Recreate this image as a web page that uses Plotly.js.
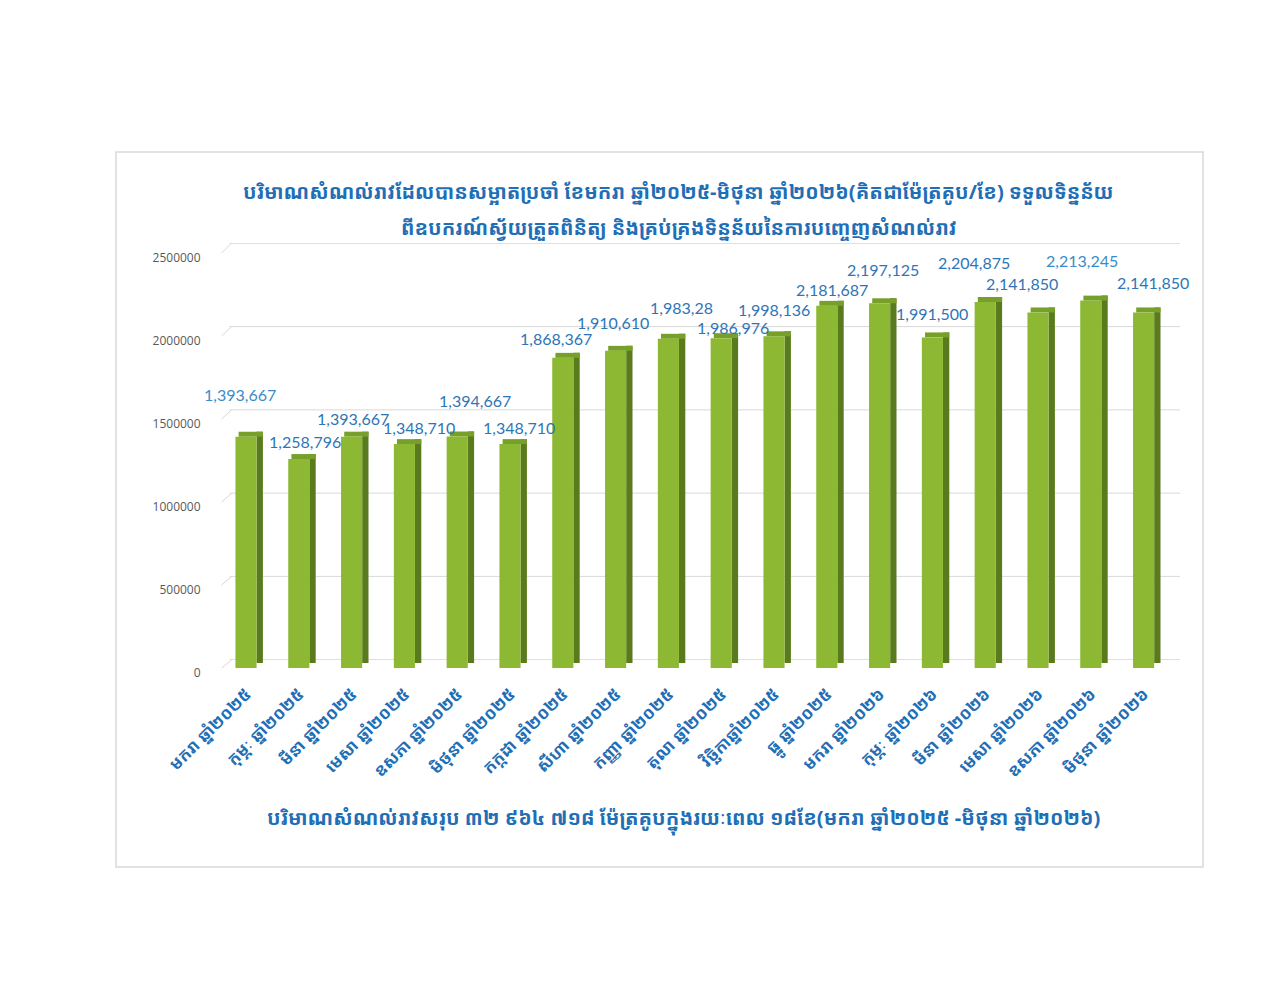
<!DOCTYPE html>
<html>
<head>
<meta charset="utf-8">
<script src="https://cdn.plot.ly/plotly-3.0.1.min.js"></script>
<style>
  body { margin: 0; background: #fff; }
  #chart { width: 1280px; height: 989px; }
</style>
</head>
<body>
<div id="chart"></div>
<script>
// month names, Jan 2025 .. Jun 2026
const categories = [
  "មករា ឆ្នាំ២០២៥", "កុម្ភៈ ឆ្នាំ២០២៥", "មីនា ឆ្នាំ២០២៥", "មេសា ឆ្នាំ២០២៥",
  "ឧសភា ឆ្នាំ២០២៥", "មិថុនា ឆ្នាំ២០២៥", "កក្កដា ឆ្នាំ២០២៥", "សីហា ឆ្នាំ២០២៥",
  "កញ្ញា ឆ្នាំ២០២៥", "តុលា ឆ្នាំ២០២៥", "វិច្ឆិកាឆ្នាំ២០២៥", "ធ្នូ ឆ្នាំ២០២៥",
  "មករា ឆ្នាំ២០២៦", "កុម្ភៈ ឆ្នាំ២០២៦", "មីនា ឆ្នាំ២០២៦", "មេសា ឆ្នាំ២០២៦",
  "ឧសភា ឆ្នាំ២០២៦", "មិថុនា ឆ្នាំ២០២៦"
];
const volumes = [
  1393667, 1258796, 1393667, 1348710, 1394667, 1348710, 1868367, 1910610,
  1983280, 1986976, 1998136, 2181687, 2197125, 1991500, 2204875, 2141850,
  2213245, 2141850
];
const valueLabels = [
  "1,393,667", "1,258,796", "1,393,667", "1,348,710", "1,394,667", "1,348,710",
  "1,868,367", "1,910,610", "1,983,28", "1,986,976", "1,998,136", "2,181,687",
  "2,197,125", "1,991,500", "2,204,875", "2,141,850", "2,213,245", "2,141,850"
];
const yTicks = [0, 500000, 1000000, 1500000, 2000000, 2500000];

const titleLine1 = "បរិមាណសំណល់រាវដែលបានសម្អាតប្រចាំ ខែមករា ឆ្នាំ២០២៥-មិថុនា ឆ្នាំ២០២៦(គិតជាម៉ែត្រគូប/ខែ) ទទួលទិន្នន័យ";
const titleLine2 = "ពីឧបករណ៍ស្វ័យត្រួតពិនិត្យ និងគ្រប់គ្រងទិន្នន័យនៃការបញ្ចេញសំណល់រាវ";
const footNote = "បរិមាណសំណល់រាវសរុប ៣២ ៩៦៤ ៧១៨ ម៉ែត្រគូបក្នុងរយៈពេល ១៨ខែ(មករា ឆ្នាំ២០២៥ -មិថុនា ឆ្នាំ២០២៦)";

// label nudges (px) - labels in the original were dragged around by hand
const labelDx = [-6, 6, 1, 15, 18, 9, -7, -3, 13, 12, 0, 5, 3, 0, -11, -16, -9, 9];
const labelDy = [42, 18, 18, 17, 36, 17, 19, 28, 31, 11, 27, 16, 34, 24, 39, 29, 40, 30];

const khmerFont = "'Noto Sans Khmer', 'Khmer OS Battambang', 'Noto Sans', sans-serif";
const blue = "#1f6fb6";
const depth = 30000; // fake 3D depth in data units

const W = 1280, H = 989;
const px = (x) => x / W;
const py = (y) => (H - y) / H;

// front plane (bars) and back wall (gridlines)
const front = { x0: 219.6, x1: 1170, y0: 668, y1: 253 };
const back = { x0: 229.6, x1: 1180, y0: 660, y1: 243 };

const traces = [
  {
    // back wall, only here so the grid subplot exists
    type: "scatter", mode: "none", x: categories, y: volumes,
    xaxis: "x", yaxis: "y", hoverinfo: "skip", showlegend: false
  },
  {
    type: "bar", x: categories, y: volumes, base: volumes.map(() => depth),
    offset: 0.2, width: 0.12, xaxis: "x2", yaxis: "y2",
    marker: { color: "#5a7a1e" }, hoverinfo: "skip", showlegend: false
  },
  {
    type: "bar", x: categories, y: volumes.map(() => depth), base: volumes,
    offset: -0.14, width: 0.46, xaxis: "x2", yaxis: "y2",
    marker: { color: "#76a02a" }, hoverinfo: "skip", showlegend: false
  },
  {
    type: "bar", x: categories, y: volumes,
    offset: -0.2, width: 0.4, xaxis: "x2", yaxis: "y2",
    marker: { color: "#8cb833" }, showlegend: false
  }
];

const annotations = volumes.map((v, i) => ({
  xref: "x2", yref: "y2", x: categories[i], y: v,
  text: valueLabels[i], showarrow: false,
  xshift: labelDx[i], yshift: labelDy[i],
  bgcolor: i === 17 ? "#ffffff" : "rgba(0,0,0,0)",
  font: { family: "Lato, 'Open Sans', sans-serif", size: 16,
          color: (i === 0 || i === 16) ? "#3a8cc8" : "#2e75b6" }
}));

annotations.push(
  { xref: "paper", yref: "paper", x: px(678), y: py(176), text: titleLine1,
    showarrow: false, font: { family: khmerFont, size: 20, weight: "bold", color: blue } },
  { xref: "paper", yref: "paper", x: px(679), y: py(212), text: titleLine2,
    showarrow: false, font: { family: khmerFont, size: 20, weight: "bold", color: blue } },
  { xref: "paper", yref: "paper", x: px(684), y: py(838), text: footNote,
    showarrow: false, font: { family: khmerFont, size: 20, weight: "bold", color: blue } }
);

const shapes = [];
yTicks.forEach((t) => {
  const f = t / 2500000;
  // gridline on the back wall
  shapes.push({
    type: "line", xref: "x domain", yref: "y", layer: "below",
    x0: 0, x1: 1, y0: t, y1: t,
    line: { color: "#d9d9d9", width: 1 }
  });
  // left bevel, from front plane to back wall
  shapes.push({
    type: "line", xref: "paper", yref: "paper", layer: "below",
    x0: px(front.x0 + 2), y0: py(front.y0 + (front.y1 - front.y0) * f),
    x1: px(back.x0 + 2), y1: py(back.y0 + (back.y1 - back.y0) * f),
    line: { color: "#d9d9d9", width: 1 }
  });
});
// outer frame
shapes.push({
  type: "rect", xref: "paper", yref: "paper",
  x0: px(116), x1: px(1203), y0: py(867), y1: py(152),
  line: { color: "#d9d9d9", width: 1.5 }
});

const layout = {
  width: W, height: H,
  margin: { l: 0, r: 0, t: 0, b: 0 },
  paper_bgcolor: "#ffffff", plot_bgcolor: "rgba(0,0,0,0)",
  barmode: "overlay",
  showlegend: false,
  xaxis: {
    domain: [px(back.x0), px(back.x1)], anchor: "y",
    type: "category", range: [-0.5, 17.5],
    showticklabels: false, showgrid: false, zeroline: false, showline: false
  },
  yaxis: {
    domain: [py(back.y0), py(back.y1)], anchor: "x",
    range: [-2000, 2502000],
    showgrid: false, showticklabels: false, zeroline: false, showline: false
  },
  xaxis2: {
    domain: [px(front.x0), px(front.x1)], anchor: "y2",
    type: "category", range: [-0.5, 17.5],
    tickangle: -45, ticks: "", ticklabelstandoff: 12,
    tickfont: { family: khmerFont, size: 17, weight: "bold", color: blue },
    showgrid: false, zeroline: false, showline: false
  },
  yaxis2: {
    domain: [py(front.y0), py(front.y1)], anchor: "x2",
    range: [0, 2500000], tickvals: yTicks, tickformat: "d",
    ticks: "", ticklabelstandoff: 18, ticklabelshift: 5,
    tickfont: { family: "'Open Sans', 'Liberation Sans', sans-serif", size: 12, color: "#595959" },
    showgrid: false, zeroline: false, showline: false
  },
  annotations: annotations,
  shapes: shapes
};

Plotly.newPlot("chart", traces, layout, { staticPlot: true });
</script>
</body>
</html>
